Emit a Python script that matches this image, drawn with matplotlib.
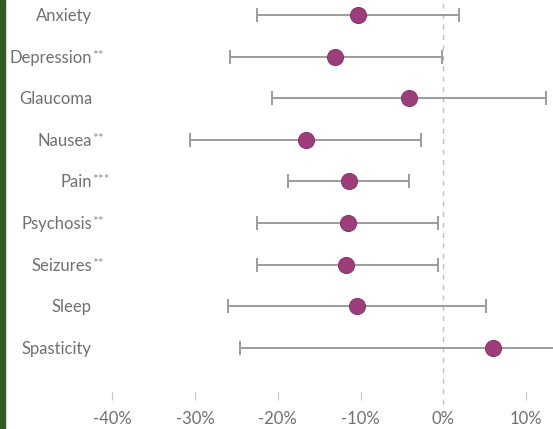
import matplotlib
matplotlib.use("Agg")
import matplotlib.pyplot as plt
from matplotlib.patches import Rectangle
import numpy as np

categories = ["Anxiety", "Depression", "Glaucoma", "Nausea", "Pain",
              "Psychosis", "Seizures", "Sleep", "Spasticity"]
stars = ["", "**", "", "**", "***", "**", "**", "", ""]
means = [-10.3, -13.1, -4.1, -16.6, -11.4, -11.5, -11.7, -10.4, 6.0]
lower = [-22.5, -25.8, -20.7, -30.6, -18.7, -22.5, -22.5, -26.0, -24.6]
upper = [1.9, -0.1, 12.4, -2.7, -4.1, -0.6, -0.6, 5.1, 20.0]
xticks = [-40, -30, -20, -10, 0, 10]
xticklabels = ["-40%", "-30%", "-20%", "-10%", "0%", "10%"]

W, H = 553, 429
fig = plt.figure(figsize=(W / 100, H / 100), dpi=100)
fig.patch.set_facecolor("white")
fig.patches.append(Rectangle((0, 0), 5 / W, 1, transform=fig.transFigure,
                             color="#2f5b1f", zorder=10))

left_px, right_px, top_px, bottom_px = 100, 553, 0, 400
ax = fig.add_axes([left_px / W, 1 - bottom_px / H,
                   (right_px - left_px) / W, (bottom_px - top_px) / H])

# pixel mapping: x_px = 443.3 + 8.28 * v ; y_px = 15 + 41.6 * i
x0, s = 443.3, 8.28
ax.set_xlim((left_px - x0) / s, (right_px - x0) / s)
ax.set_ylim((bottom_px - 15) / 41.6, (top_px - 15) / 41.6)

y = np.arange(len(categories))
means_a = np.array(means)
err = np.vstack([means_a - np.array(lower), np.array(upper) - means_a])

ax.axvline(0, ymin=-0.01, ymax=1, color="#bdbdbd", lw=1.0,
           ls=(0, (3.5, 4)), zorder=1, clip_on=False)
ax.errorbar(means_a, y, xerr=err, fmt="none", ecolor="#9c9c9c",
            elinewidth=1.4, capsize=5, capthick=1.4, zorder=2)
ax.plot(means_a, y, "o", ms=11.5, color="#9d3d7a", mec="#8c336c",
        mew=0.8, zorder=3)

for sp in ax.spines.values():
    sp.set_visible(False)
ax.set_yticks([])
ax.set_xticks(xticks)
ax.set_xticklabels(xticklabels, fontfamily="Lato", fontsize=12,
                   color="#707070")
ax.tick_params(axis="x", direction="in", length=6, width=0.8,
               color="#c4c4c4", pad=8)
ax.get_xticklines()[8].set_visible(False)  # no tick at 0%

for i, (c, st) in enumerate(zip(categories, stars)):
    ypx = 15 + 41.6 * i
    fy = 1 - (ypx + 1) / H
    fig.text(92 / W, fy, c, ha="right", va="center", fontfamily="Lato",
             fontsize=12, color="#707070")
    if st:
        fig.text(92 / W, fy + 2 / H, st, ha="left", va="center",
                 fontfamily="Lato", fontsize=10, color="#909090")

fig.savefig("out.png", dpi=100, facecolor="white")
